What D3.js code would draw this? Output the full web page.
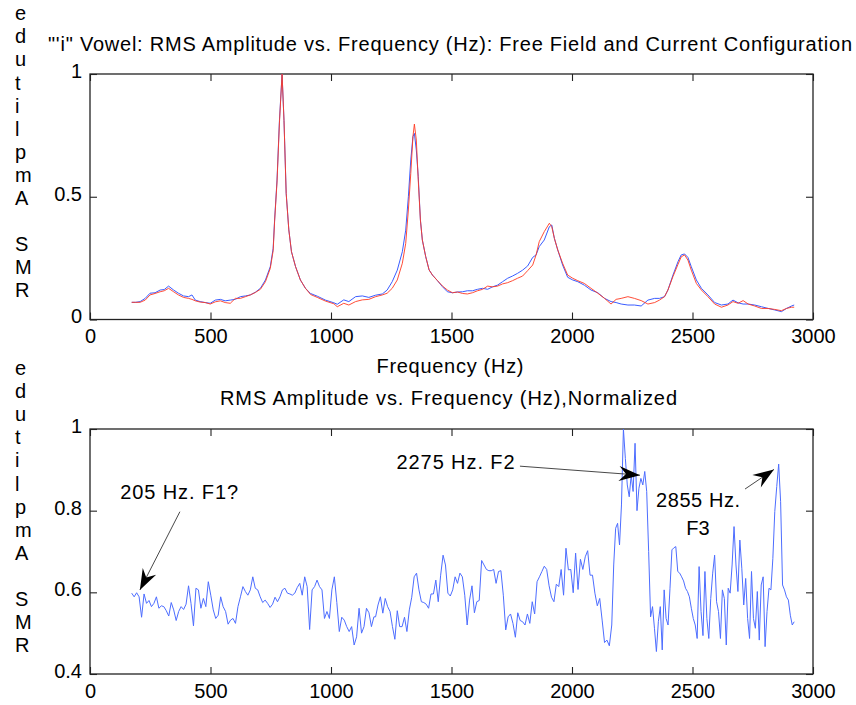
<!DOCTYPE html>
<html>
<head>
<meta charset="utf-8">
<script src="https://cdn.jsdelivr.net/npm/d3@7"></script>
<style>
  body { margin: 0; background: #fff; }
  text { font-family: "Liberation Sans", Arial, Helvetica, sans-serif; fill: #000; }
</style>
</head>
<body>
<div id="chart"></div>
<script>
// 1. 위 그래프: 스펙트럼 (Hz, 파랑 / 빨강)
const specHz = [
  173,190,208,229,249,270,291,308,326,347,
  367,388,409,423,437,457,478,499,520,541,
  561,582,603,624,645,665,686,707,728,748,
  760,766,776,786,797,805,814,825,836,853,
  873,894,915,943,977,1012,1026,1053,1074,1102,
  1130,1157,1185,1213,1233,1254,1275,1296,1310,1321,
  1331,1340,1346,1354,1362,1371,1379,1393,1407,1421,
  1442,1462,1483,1504,1525,1546,1566,1587,1608,1629,
  1650,1670,1691,1712,1733,1753,1774,1795,1816,1837,
  1851,1864,1885,1906,1916,1927,1941,1961,1982,2003,
  2024,2051,2079,2107,2135,2162,2183,2204,2232,2259,
  2287,2315,2343,2363,2384,2398,2419,2440,2453,2467,
  2481,2495,2516,2537,2564,2592,2620,2647,2668,2689,
  2710,2731,2758,2786,2814,2841,2869,2890,2911,2922
];
const specBlue = [
  .070,.070,.073,.086,.107,.109,.120,.122,.136,.120,
  .107,.096,.093,.100,.079,.073,.069,.066,.079,.082,
  .076,.079,.082,.093,.096,.100,.111,.127,.161,.215,
  .290,.405,.568,.810,1.0,.810,.514,.365,.276,.215,
  .161,.127,.106,.095,.079,.068,.062,.080,.073,.093,
  .096,.090,.099,.104,.120,.154,.201,.276,.364,.500,
  .650,.745,.758,.690,.582,.405,.324,.256,.202,.181,
  .158,.134,.113,.109,.112,.113,.117,.117,.123,.127,
  .123,.133,.140,.154,.168,.177,.188,.201,.218,.253,
  .263,.297,.324,.378,.385,.330,.283,.222,.172,.161,
  .154,.140,.120,.109,.086,.073,.069,.063,.059,.059,
  .055,.079,.086,.086,.093,.120,.181,.236,.263,.267,
  .253,.215,.161,.127,.100,.069,.059,.063,.079,.068,
  .063,.063,.059,.052,.045,.039,.032,.045,.055,.059
];
const specRed = [
  .070,.070,.070,.079,.100,.106,.113,.117,.127,.113,
  .100,.090,.086,.082,.076,.071,.069,.063,.072,.076,
  .069,.066,.086,.086,.093,.100,.110,.123,.154,.208,
  .280,.400,.560,.800,1.0,.810,.514,.365,.276,.215,
  .161,.127,.102,.090,.075,.064,.052,.066,.059,.073,
  .080,.082,.093,.100,.107,.127,.161,.229,.310,.446,
  .595,.745,.796,.731,.568,.405,.324,.256,.202,.181,
  .158,.137,.120,.109,.112,.106,.104,.109,.117,.123,
  .136,.133,.136,.145,.150,.158,.168,.177,.199,.222,
  .263,.317,.358,.392,.378,.330,.283,.229,.181,.168,
  .158,.147,.127,.107,.086,.063,.082,.086,.093,.086,
  .077,.063,.069,.079,.093,.120,.175,.225,.255,.263,
  .242,.201,.147,.120,.093,.063,.050,.059,.073,.066,
  .077,.063,.055,.045,.045,.041,.036,.045,.050,.050
];

// 2. 아래 그래프: 정규화된 값 (구간별로 읽음)
const normA = [
  0.598,0.589,0.599,0.589,0.539,0.596,0.573,0.580,0.565,0.573,
  0.589,0.561,0.567,0.565,0.555,0.542,0.575,0.557,0.531,0.553,
  0.565,0.558,0.571,0.616,0.573,0.518,0.610,0.606,0.561,0.585,
  0.565,0.626,0.593,0.557,0.536,0.544,0.589,0.565,0.553,0.522,
  0.532,0.536,0.524,0.565,0.589,0.614,0.602,0.593,0.606,0.638,
  0.610,0.606,0.589,0.575,0.581,0.573,0.563,0.571,0.588,0.577,
  0.589,0.606,0.610,0.598,0.596,0.593,0.598,0.612,0.622,0.593,
  0.638,0.614,0.509,0.606,0.614,0.630,0.614,0.606,0.536,0.553,
  0.536,0.606,0.638,0.575,0.504,0.539,0.532,0.516,0.504,0.516,
  0.471,0.491,0.561,0.500,0.516,0.561,0.550,0.516,0.540
];
const normB = [
  0.540,0.569,0.589,0.549,0.585,0.565,0.553,0.516,0.485,0.555,
  0.516,0.516,0.539,0.504,0.557,0.588,0.638,0.647,0.606,0.577,
  0.575,0.571,0.561,0.596,0.596,0.630,0.577,0.642,0.691,0.667,
  0.598,0.591,0.606,0.638,0.622,0.647,0.638,0.593,0.520,0.581,
  0.616,0.550,0.577,0.580,0.678,0.667,0.656,0.653,0.653,0.656,
  0.622,0.651,0.653,0.593,0.508,0.540,0.547,0.524,0.490,0.550,
  0.531,0.528,0.520,0.547,0.524,0.577,0.547,0.626,0.638,0.651,
  0.664,0.656,0.616,0.588,0.577,0.620,0.614,0.656,0.593,0.708,
  0.655,0.656,0.599,0.696,0.607,0.681,0.656,0.687,0.702,0.642,
  0.642,0.598,0.567,0.585,0.532,0.477,0.483,0.469
];
const normC = [
  0.520,0.667,0.757,0.769,0.716,0.814,1.000,0.928,0.863,0.834,
  0.887,0.847,0.965,0.800,0.855,0.879,0.863,0.896,0.847,0.700,
  0.540,0.565,0.512,0.455,0.528,0.565,0.459,0.606,0.536,0.520,
  0.610,0.704,0.709,0.712,0.651,0.647,0.638,0.628,0.610,0.602,
  0.589,0.561,0.536,0.520,0.487,0.663,0.553,0.494,0.651,0.536,
  0.487,0.585,0.647,0.691,0.577,0.553,0.487,0.606,0.585,0.471,
  0.610,0.598,0.667,0.761,0.667,0.602,0.728,0.659,0.569,0.634,
  0.536,0.487,0.651,0.536,0.512,0.602,0.483,0.618,0.638,0.467,
  0.553,0.610,0.606,0.683,0.798,0.859,0.914,0.822,0.618,0.606,
  0.589,0.581,0.544,0.520,0.528
];
const normSegments = [normA, normB, normC];
const normRangesHz = [[173, 1178], [1185, 2155], [2165, 2922]];

// 눈금
const xTicks = [0, 500, 1000, 1500, 2000, 2500, 3000];
const yTicksTop = [0, 0.5, 1];
const yTicksBottom = [0.4, 0.6, 0.8, 1];

// 주석 (Hz, 값)
const notes = [
  {lines: ["205 Hz. F1?"], widths: [118], anchor: "start", hz: 125, v: 0.829, tail: [373, 0.7975], tip: [207, 0.6057]},
  {lines: ["2275 Hz. F2"], widths: [118], anchor: "start", hz: 1272, v: 0.902, tail: [1784, 0.909], tip: [2282, 0.887]},
  {lines: ["2855 Hz.", "F3"], widths: [84, null], anchor: "middle", hz: 2523, v: 0.809, tail: [2718, 0.853], tip: [2838, 0.901]}
];

const topTitle = "\"'i\" Vowel: RMS Amplitude vs. Frequency (Hz): Free Field and Current Configuration";
const bottomTitle = "RMS Amplitude vs. Frequency (Hz),Normalized";
const xLabel = "Frequency (Hz)";
const yLabel = "RMS Amplitude";

const fontFamily = '"Liberation Sans", Arial, Helvetica, sans-serif';
const width = 856, height = 705;
const svg = d3.select("#chart").append("svg")
  .attr("width", width)
  .attr("height", height)
  .attr("viewBox", [0, 0, width, height]);

svg.append("rect").attr("width", width).attr("height", height).attr("fill", "#fff");

const x = d3.scaleLinear().domain([0, 3000]).range([90, 813]);
const yTop = d3.scaleLinear().domain([0, 1]).range([319.5, 74]);
const yBot = d3.scaleLinear().domain([0.4, 1]).range([674, 429]);

function drawAxes(y, yTicks, labelPad) {
  const [y0, y1] = y.range();
  const g = svg.append("g");

  const bottom = g.append("g").attr("transform", `translate(0,${y0})`)
    .call(d3.axisBottom(x).tickValues(xTicks).tickSizeInner(-7).tickSizeOuter(0).tickPadding(labelPad).tickFormat(d => String(d)));
  const top = g.append("g").attr("transform", `translate(0,${y1})`)
    .call(d3.axisTop(x).tickValues(xTicks).tickSizeInner(-7).tickSizeOuter(0).tickFormat(""));
  const left = g.append("g").attr("transform", `translate(${x(0)},0)`)
    .call(d3.axisLeft(y).tickValues(yTicks).tickSizeInner(-7).tickSizeOuter(0).tickPadding(8).tickFormat(d => String(d)));
  const right = g.append("g").attr("transform", `translate(${x(3000)},0)`)
    .call(d3.axisRight(y).tickValues(yTicks).tickSizeInner(-7).tickSizeOuter(0).tickFormat(""));

  // d3 축이 넣는 기본 글꼴 크기(10)를 덮어씀
  [bottom, top, left, right].forEach(a => {
    a.attr("font-size", 20).attr("font-family", fontFamily);
    a.select(".domain").remove();
    a.selectAll("line").attr("stroke", "#222").attr("stroke-width", 1.1);
    a.selectAll("text").attr("fill", "#000");
  });
  left.selectAll("text").attr("dy", "0.17em");

  svg.append("rect")
    .attr("x", x(0)).attr("y", y1)
    .attr("width", x(3000) - x(0)).attr("height", y0 - y1)
    .attr("fill", "none").attr("stroke", "#222").attr("stroke-width", 1.3);
}

function verticalLetters(baseY) {
  const chars = yLabel.split("").reverse();
  svg.append("g").attr("font-size", 20)
    .selectAll("text")
    .data(chars)
    .join("text")
    .attr("x", 15)
    .attr("y", (d, i) => baseY + i * 23.1)
    .text(d => d);
}

function label(txt, cx, by, len) {
  const t = svg.append("text")
    .attr("x", cx).attr("y", by)
    .attr("text-anchor", "middle")
    .attr("font-size", 20)
    .text(txt);
  if (len) t.attr("textLength", len).attr("lengthAdjust", "spacing");
  return t;
}

// 위 그래프
drawAxes(yTop, yTicksTop, 9);

const topLine = d3.line().x(d => x(d[0])).y(d => yTop(d[1]));
svg.append("path")
  .datum(specHz.map((h, i) => [h, specBlue[i]]))
  .attr("d", topLine)
  .attr("fill", "none").attr("stroke", "#3a5cff").attr("stroke-width", 1);
svg.append("path")
  .datum(specHz.map((h, i) => [h, specRed[i]]))
  .attr("d", topLine)
  .attr("fill", "none").attr("stroke", "#ff3a22").attr("stroke-width", 1).attr("stroke-opacity", 0.9);

label(topTitle, 450, 51, 804);
label(xLabel, 450, 373, 147);
verticalLetters(20.2);

// 아래 그래프
drawAxes(yBot, yTicksBottom, 10);

const normPoints = [];
normSegments.forEach((vals, s) => {
  const [a, b] = normRangesHz[s];
  vals.forEach((v, i) => normPoints.push([a + i * (b - a) / (vals.length - 1), v]));
});

svg.append("path")
  .datum(normPoints)
  .attr("d", d3.line().x(d => x(d[0])).y(d => yBot(d[1])))
  .attr("fill", "none").attr("stroke", "#4d6dff").attr("stroke-width", 1);

label(bottomTitle, 448.5, 405, 457);
verticalLetters(375);

// 화살표 주석
const noteG = svg.append("g").attr("font-size", 20);
notes.forEach(n => {
  const tx = x(n.hz), ty = yBot(n.v);
  n.lines.forEach((ln, i) => {
    const t = noteG.append("text")
      .attr("x", tx).attr("y", ty + i * 28)
      .attr("text-anchor", n.anchor)
      .text(ln);
    if (n.widths[i]) t.attr("textLength", n.widths[i]).attr("lengthAdjust", "spacing");
  });

  const x1 = x(n.tail[0]), y1 = yBot(n.tail[1]);
  const x2 = x(n.tip[0]), y2 = yBot(n.tip[1]);
  const ang = Math.atan2(y2 - y1, x2 - x1) * 180 / Math.PI;

  noteG.append("line")
    .attr("x1", x1).attr("y1", y1).attr("x2", x2).attr("y2", y2)
    .attr("stroke", "#333").attr("stroke-width", 0.9);

  noteG.append("path")
    .attr("d", "M0,0 L-21,-7.5 L-14,0 L-21,7.5 Z")
    .attr("transform", `translate(${x2},${y2}) rotate(${ang})`)
    .attr("fill", "#000");
});
</script>
</body>
</html>
